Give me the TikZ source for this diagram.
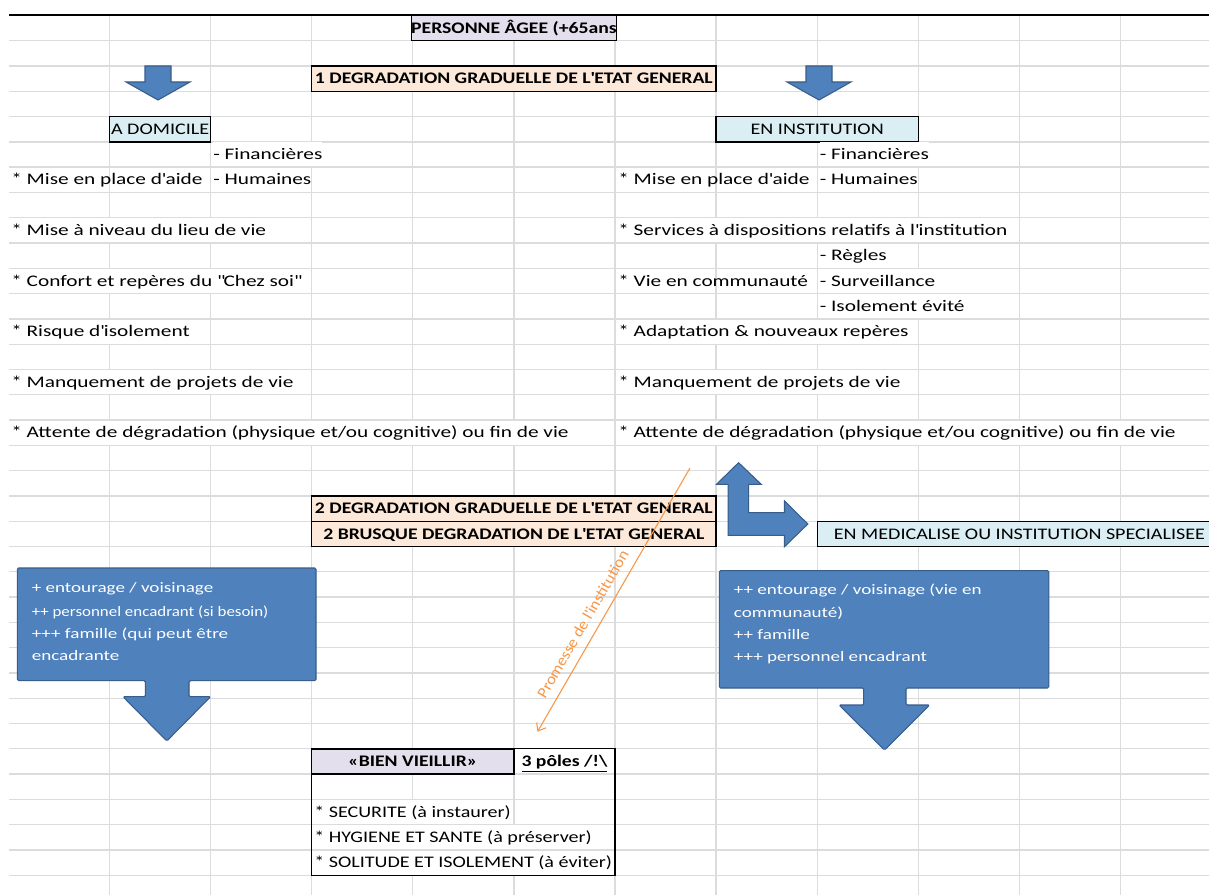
\documentclass[tikz,border=0pt]{standalone}
\usepackage{fontspec}
\setmainfont{Carlito}[FakeStretch=1.32, BoldFeatures={FakeStretch=1.22}]
\newfontfamily\promfont{Carlito}[FakeStretch=1.08]
\newfontfamily\tightfont{Carlito}[FakeStretch=1.17]
\newfontfamily\capsfont{Carlito}[FakeStretch=1.245]
\definecolor{xlgrid}{RGB}{218,220,221}
\definecolor{xllav}{RGB}{228,223,236}
\definecolor{xlpeach}{RGB}{253,233,217}
\definecolor{xlaqua}{RGB}{218,238,243}
\definecolor{xlblue}{RGB}{79,129,189}
\definecolor{xlblueline}{RGB}{56,93,138}
\definecolor{xlorange}{RGB}{247,150,70}
\usetikzlibrary{arrows.meta,positioning,calc}
\newcommand{\apo}{\textquotesingle}

\begin{document}
\fontsize{12.1pt}{14.5pt}\selectfont
\begin{tikzpicture}[x=0.75pt, y=-0.75pt,
    gridline/.style={draw=xlgrid, line width=1pt},
    hdr/.style={draw=black, line width=1pt, inner sep=0pt, text height=0.64em,
      text depth=0pt, minimum height=18.97pt},
    cell/.style={anchor=base west, inner sep=0pt, fill=white,
      text height=12.75pt, text depth=5.25pt},
    blockarrow/.style={fill=xlblue, draw=xlblueline, line width=0.8pt},
    boxtxt/.style={anchor=base west, inner sep=0pt, text=white,
      font=\fontsize{10.85pt}{13pt}\selectfont},
    promise/.style={draw=xlorange, line width=0.8pt, -{Straight Barb[length=5pt,width=8pt]}}]
  \useasboundingbox (0,0) rectangle (1209,895);
  \fill[white] (0,0) rectangle (1209,895);

  % sheet grid
  \foreach \r in {1,...,34}
    \draw[gridline] (9,{15.4+25.29*\r}) -- (1209,{15.4+25.29*\r});
  \foreach \c in {0,...,10}
    \draw[gridline] ({109.5+101.1*\c},15) -- ({109.5+101.1*\c},895);
  \draw[line width=1.2pt] (9,14.8) -- (1209,14.8);

  % titles
  \node[hdr, fill=xllav, minimum width=151.65pt, font=\bfseries] (personne) at (513.9,28.05) {PERSONNE ÂGEE (+65ans};
  \node[hdr, fill=xlpeach, minimum width=303.3pt, font=\bfseries] (degrad1) at (513.9,78.6) {1 DEGRADATION GRADUELLE DE L\apo ETAT GENERAL};
  \foreach \cx in {158,819}
    \filldraw[blockarrow] ({\cx-13},66) -- ({\cx+13},66) -- ({\cx+13},82) -- ({\cx+32},82)
      -- (\cx,100) -- ({\cx-32},82) -- ({\cx-13},82) -- cycle;
  \node[hdr, fill=xlaqua, minimum width=75.8pt, font=\capsfont] (domicile) at (160.05,129.2) {A DOMICILE};
  \node[hdr, fill=xlaqua, minimum width=151.65pt, font=\capsfont] (institution) at (817.2,129.2) {EN INSTITUTION};

  % a domicile
  \node[cell] (dFin) at (213,159.5) {- Financières};
  \node[cell, fill=none] (dAide) at (11,184.8) {* Mise en place d\apo aide};
  \node[cell] (dHum) at (213,184.8) {- Humaines};
  \node[cell] (dNiveau) at (11,235.4) {* Mise à niveau du lieu de vie};
  \node[cell] (dConfort) at (11,286) {* Confort et repères du \textquotedbl Chez soi\textquotedbl};
  \node[cell] (dRisque) at (11,336.5) {* Risque d\apo isolement};
  \node[cell] (dProjets) at (11,387.1) {* Manquement de projets de vie};
  \node[cell] (dAttente) at (11,437.7) {* Attente de dégradation (physique et/ou cognitive) ou fin de vie};

  % en institution
  \node[cell] (iFin) at (819.5,159.5) {- Financières};
  \node[cell, fill=none] (iAide) at (618,184.8) {* Mise en place d\apo aide};
  \node[cell] (iHum) at (819.5,184.8) {- Humaines};
  \node[cell] (iServices) at (618,235.4) {* Services à dispositions relatifs à l\apo institution};
  \node[cell] (iRegles) at (819.5,260.7) {- Règles};
  \node[cell, fill=none] (iVie) at (618,286) {* Vie en communauté};
  \node[cell] (iSurv) at (819.5,286) {- Surveillance};
  \node[cell] (iIsol) at (819.5,311.2) {- Isolement évité};
  \node[cell] (iAdapt) at (618,336.5) {* Adaptation \& nouveaux repères};
  \node[cell] (iProjets) at (618,387.1) {* Manquement de projets de vie};
  \node[cell] (iAttente) at (618,437.7) {* Attente de dégradation (physique et/ou cognitive) ou fin de vie};

  % second degradation
  \node[hdr, fill=xlpeach, minimum width=303.3pt, font=\bfseries] (degrad2) at (513.9,508.6) {2 DEGRADATION GRADUELLE DE L\apo ETAT GENERAL};
  \node[hdr, fill=xlpeach, minimum width=303.3pt, font=\bfseries] (brusque) at (513.9,533.9) {2 BRUSQUE DEGRADATION DE L\apo ETAT GENERAL};
  \filldraw[blockarrow] (738.6,462.7) -- (761.2,484.3) -- (748.7,484.3) -- (748.7,512.7)
    -- (784.5,512.7) -- (784.5,501) -- (807.8,524) -- (784.5,546.7) -- (784.5,535.3)
    -- (728.2,535.3) -- (728.2,484.3) -- (716.5,484.3) -- cycle;
  \node[hdr, fill=xlaqua, minimum width=303.3pt, font=\capsfont] (medical) at (1019.4,533.9) {EN MEDICALISE OU INSTITUTION SPECIALISEE};

  % callouts
  \filldraw[blockarrow, rounded corners=1pt] (17.4,568) -- (316,568) -- (316,680.7) -- (189,680.7)
    -- (189,696.7) -- (210.6,696.7) -- (166.8,741) -- (123,696.7) -- (145.4,696.7)
    -- (145.4,680.7) -- (17.4,680.7) -- cycle;
  \node[boxtxt] (dom1) at (31.5,592.5) {+ entourage / voisinage};
  \node[boxtxt, font=\tightfont\fontsize{10.85pt}{13pt}\selectfont] (dom2) at (31.5,616.5) {++ personnel encadrant (si besoin)};
  \node[boxtxt] (dom3) at (31.5,638) {+++ famille (qui peut être};
  \node[boxtxt] (dom4) at (31.5,660) {encadrante};
  \filldraw[blockarrow, rounded corners=1pt] (719.4,570.7) -- (1048.8,570.7) -- (1048.8,688) -- (906,688)
    -- (906,705) -- (929.5,705) -- (884.5,750) -- (839,705) -- (863.6,705)
    -- (863.6,688) -- (719.4,688) -- cycle;
  \node[boxtxt] (inst1) at (733.7,594.5) {++ entourage / voisinage (vie en};
  \node[boxtxt] (inst2) at (733.7,617.5) {communauté)};
  \node[boxtxt] (inst3) at (733.7,639.5) {++ famille};
  \node[boxtxt] (inst4) at (733.7,661.5) {+++ personnel encadrant};

  % promise of the institution
  \coordinate (promTop) at (690,468);
  \coordinate (promEnd) at (537.5,731.7);
  \draw[promise] (promTop) -- node[sloped, above=2.5pt, pos=0.62, text=xlorange,
    font=\promfont\fontsize{11.6pt}{14pt}\selectfont] (promLbl) {Promesse de l\apo institution} (promEnd);

  % bien vieillir
  \draw[line width=1pt] (311.7,748.8) rectangle (615,875.3);
  \node[hdr, fill=xllav, minimum width=151.65pt, font=\bfseries] (bien) at (412.8,761.5) {«BIEN VIEILLIR»};
  \node[inner sep=0pt, text height=0.64em, text depth=0pt, font=\bfseries] (poles) at (564.5,761.5) {\underline{3 pôles /!\textbackslash}};
  \node[cell, font=\capsfont] (securite) at (314,817) {* SECURITE (à instaurer)};
  \node[cell, font=\capsfont] (hygiene) at (314,842.3) {* HYGIENE ET SANTE (à préserver)};
  \node[cell, font=\capsfont] (solitude) at (314,867.6) {* SOLITUDE ET ISOLEMENT (à éviter)};
\end{tikzpicture}
\end{document}
